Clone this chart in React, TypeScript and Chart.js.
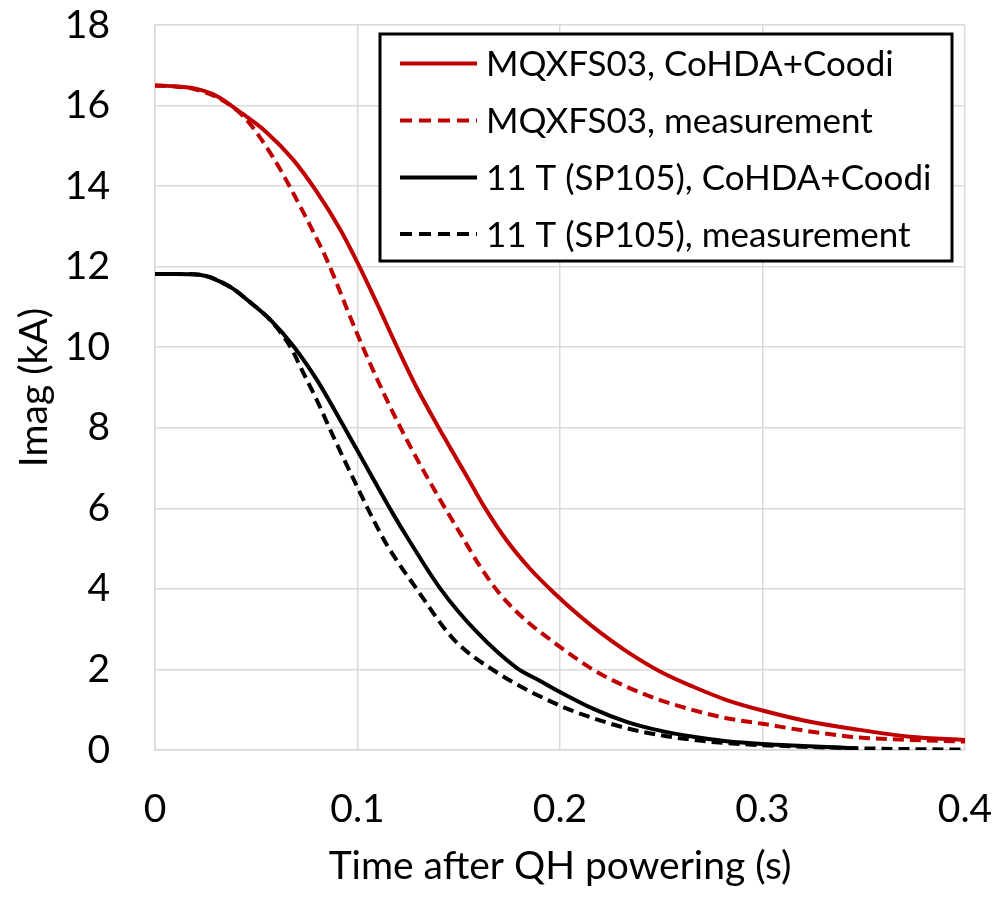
import React, { useEffect, useRef } from "react";
import { Chart, registerables } from "chart.js";

Chart.register(...registerables);

const FONT = "Lato, 'Open Sans', sans-serif";

const seriesLabels = [
  "MQXFS03, CoHDA+Coodi",
  "MQXFS03, measurement",
  "11 T (SP105), CoHDA+Coodi",
  "11 T (SP105), measurement",
];

// MQXFS03, CoHDA+Coodi
const mqxfsSimT = [0, 0.01, 0.02, 0.03, 0.042, 0.055, 0.068, 0.08, 0.0914, 0.1, 0.1095, 0.1193, 0.1292, 0.1424, 0.1539, 0.1621, 0.1737, 0.1852, 0.1975, 0.2099, 0.2198, 0.2329, 0.2494, 0.2658, 0.2823, 0.3, 0.3235, 0.348, 0.3728, 0.4];
const mqxfsSimI = [16.5, 16.48, 16.42, 16.25, 15.84, 15.34, 14.67, 13.85, 12.93, 12.1, 11.1, 10.03, 9.0, 7.8, 6.8, 6.08, 5.2, 4.5, 3.88, 3.32, 2.92, 2.45, 1.95, 1.57, 1.24, 0.98, 0.7, 0.5, 0.33, 0.25];

// MQXFS03, measurement
const mqxfsMeasT = [0, 0.01, 0.02, 0.03, 0.0435, 0.058, 0.068, 0.08, 0.0848, 0.0996, 0.1128, 0.1259, 0.1407, 0.1506, 0.1605, 0.1704, 0.1835, 0.195, 0.2, 0.2165, 0.2329, 0.2494, 0.2658, 0.2823, 0.3, 0.3235, 0.348, 0.373, 0.4];
const mqxfsMeasI = [16.5, 16.47, 16.4, 16.22, 15.74, 14.74, 13.85, 12.68, 12.18, 10.36, 8.87, 7.55, 6.22, 5.39, 4.56, 3.87, 3.2, 2.75, 2.56, 1.99, 1.57, 1.24, 0.99, 0.79, 0.65, 0.46, 0.31, 0.25, 0.21];

// 11 T (SP105), CoHDA+Coodi
const sp105SimT = [0, 0.01, 0.022, 0.037, 0.0469, 0.0568, 0.0683, 0.0798, 0.0897, 0.0963, 0.106, 0.1177, 0.1243, 0.1407, 0.1589, 0.1786, 0.19, 0.2, 0.2165, 0.2329, 0.2494, 0.2658, 0.2823, 0.3, 0.32, 0.3465];
const sp105SimI = [11.82, 11.82, 11.8, 11.5, 11.12, 10.69, 10.03, 9.2, 8.35, 7.76, 6.89, 5.85, 5.3, 4.02, 2.93, 2.04, 1.72, 1.44, 1.02, 0.7, 0.48, 0.33, 0.22, 0.15, 0.1, 0.04];

// 11 T (SP105), measurement
const sp105MeasT = [0, 0.01, 0.022, 0.037, 0.0469, 0.0568, 0.0667, 0.0732, 0.0798, 0.088, 0.0996, 0.1078, 0.1144, 0.1292, 0.1473, 0.1687, 0.2, 0.2165, 0.2329, 0.2494, 0.2658, 0.2823, 0.3, 0.35, 0.4];
const sp105MeasI = [11.82, 11.82, 11.8, 11.5, 11.12, 10.68, 10.02, 9.37, 8.7, 7.79, 6.56, 5.72, 5.1, 4.0, 2.76, 1.93, 1.1, 0.79, 0.54, 0.37, 0.25, 0.17, 0.12, 0.04, 0.01];

const xTickValues = [0, 0.1, 0.2, 0.3, 0.4];
const yTickValues = [0, 2, 4, 6, 8, 10, 12, 14, 16, 18];

const RED = "#C00000";
const BLACK = "#000000";
const GRID = "#d9d9d9";

const toPoints = (t: number[], v: number[]) => t.map((x, i) => ({ x, y: v[i] }));

const boxLegend = {
  id: "boxLegend",
  afterDatasetsDraw(chart: any) {
    const ctx = chart.ctx as CanvasRenderingContext2D;
    const left = 380, top = 34, right = 952, bottom = 261;
    ctx.save();
    ctx.fillStyle = "#ffffff";
    ctx.fillRect(left, top, right - left, bottom - top);
    ctx.lineWidth = 3;
    ctx.strokeStyle = "#000000";
    ctx.strokeRect(left, top, right - left, bottom - top);
    const rowY = [63.5, 120.5, 177.5, 234];
    const fontSize = 35;
    ctx.font = `${fontSize}px ${FONT}`;
    ctx.textBaseline = "alphabetic";
    ctx.textAlign = "left";
    chart.data.datasets.forEach((ds: any, i: number) => {
      const y = rowY[i];
      ctx.beginPath();
      ctx.lineWidth = 4;
      ctx.strokeStyle = ds.borderColor;
      ctx.lineCap = "butt";
      ctx.setLineDash(ds.borderDash && ds.borderDash.length ? [12, 7] : []);
      ctx.moveTo(400, y);
      ctx.lineTo(477, y);
      ctx.stroke();
      ctx.setLineDash([]);
      ctx.fillStyle = "#000000";
      ctx.fillText(ds.label, 486, y + fontSize * 0.717 / 2);
    });
    ctx.restore();
  },
};

export default function App() {
  const ref = useRef<HTMLCanvasElement | null>(null);

  useEffect(() => {
    if (!ref.current) return;
    const mk = (label: string, t: number[], v: number[], color: string, dashed: boolean, order: number) => ({
      label,
      data: toPoints(t, v),
      borderColor: color,
      backgroundColor: color,
      borderWidth: 4,
      borderDash: dashed ? [11, 6] : [],
      pointRadius: 0,
      cubicInterpolationMode: "monotone" as const,
      fill: false,
      order,
    });
    const chart = new Chart(ref.current, {
      type: "line",
      data: {
        datasets: [
          mk(seriesLabels[0], mqxfsSimT, mqxfsSimI, RED, false, 4),
          mk(seriesLabels[1], mqxfsMeasT, mqxfsMeasI, RED, true, 3),
          mk(seriesLabels[2], sp105SimT, sp105SimI, BLACK, false, 2),
          mk(seriesLabels[3], sp105MeasT, sp105MeasI, BLACK, true, 1),
        ],
      },
      options: {
        animation: false,
        responsive: false,
        layout: { padding: 0 },
        plugins: { legend: { display: false }, tooltip: { enabled: false } },
        scales: {
          x: {
            type: "linear",
            min: 0,
            max: 0.4,
            afterFit: (s: any) => { s.height = 148; s.paddingLeft = 0; s.paddingRight = 43; },
            afterBuildTicks: (s: any) => { s.ticks = xTickValues.map((value) => ({ value })); },
            grid: { color: GRID, lineWidth: 1.5, drawTicks: false },
            border: { color: GRID, width: 1.5 },
            ticks: {
              padding: 36,
              color: "#000",
              font: { family: FONT, size: 39 },
              callback: (v: any) => String(Number(Number(v).toFixed(1))),
            },
            title: {
              display: true,
              text: "Time after QH powering (s)",
              color: "#000",
              font: { family: FONT, size: 39, lineHeight: 1 },
              padding: { top: 0, bottom: 12 },
            },
          },
          y: {
            type: "linear",
            min: 0,
            max: 18,
            afterFit: (s: any) => { s.width = 155; s.paddingTop = 25; s.paddingBottom = 0; },
            afterBuildTicks: (s: any) => { s.ticks = yTickValues.map((value) => ({ value })); },
            grid: { color: GRID, lineWidth: 1.5, drawTicks: false },
            border: { color: GRID, width: 1.5 },
            ticks: {
              padding: 45,
              color: "#000",
              font: { family: FONT, size: 39 },
              callback: (v: any) => String(v),
            },
            title: {
              display: true,
              text: "Imag (kA)",
              color: "#000",
              font: { family: FONT, size: 39, lineHeight: 1 },
              padding: { top: 15, bottom: 0 },
            },
          },
        },
      },
      plugins: [boxLegend],
    });
    return () => chart.destroy();
  }, []);

  return (
    <div style={{ position: "absolute", left: 0, top: 0, width: 1008, height: 898, background: "#fff" }}>
      <canvas ref={ref} width={1008} height={898} style={{ display: "block" }} />
    </div>
  );
}
